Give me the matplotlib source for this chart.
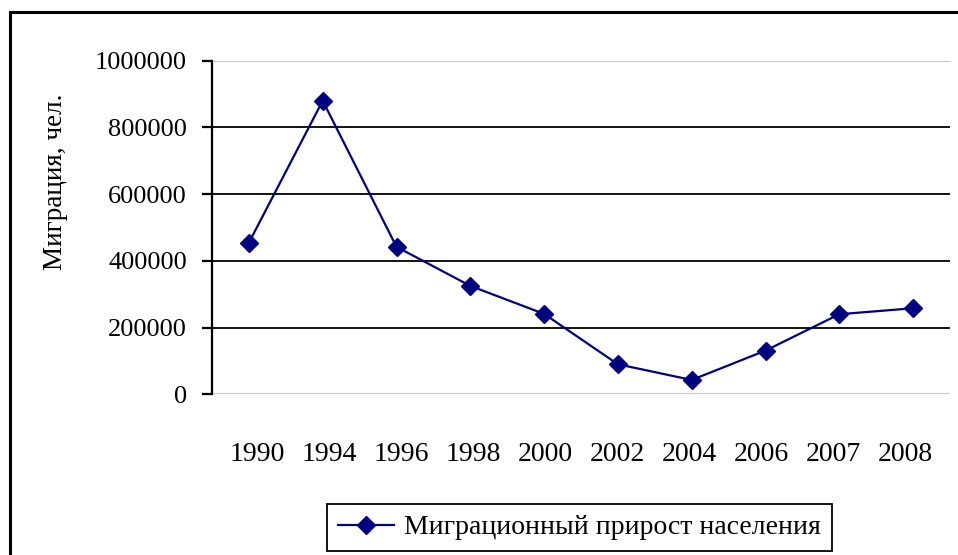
import matplotlib
matplotlib.use("Agg")
import matplotlib.pyplot as plt
from matplotlib.patches import Rectangle
from matplotlib.transforms import ScaledTranslation

# Данные: миграционный прирост населения
years = ["1990", "1994", "1996", "1998", "2000", "2002", "2004", "2006", "2007", "2008"]
migration = [454500, 880000, 442000, 325000, 241000, 90000, 43000, 131000, 240000, 258000]
y_ticks = [0, 200000, 400000, 600000, 800000, 1000000]

plt.rcParams['font.family'] = ['Liberation Serif', 'DejaVu Serif']

W, H = 958, 555
fig = plt.figure(figsize=(W / 100, H / 100), dpi=100)

# Рамка вокруг всей диаграммы (выходит за правый и нижний край)
fig.patches.append(Rectangle((10 / W, -0.05), 1.2, 1 - 12 / H + 0.05,
                             transform=fig.transFigure, fill=False,
                             edgecolor='black', lw=2.2, zorder=0))

ax = fig.add_axes([212 / W, 1 - 394.3 / H, 738 / W, 333.6 / H])
x = list(range(len(years)))
ax.plot(x, migration, color='#000080', lw=1.6, marker='D', markersize=9,
        label='Миграционный прирост населения', zorder=3, clip_on=False)

ax.set_xlim(-0.5, len(years) - 0.5)
ax.set_ylim(0, 1000000)
ax.set_yticks(y_ticks)
ax.set_yticklabels([str(v) for v in y_ticks])
ax.set_xticks(x)
ax.set_xticklabels(years)

# сетка: внутренние линии чёрные, крайние светло-серые
for v in y_ticks:
    if v in (0, 1000000):
        ax.axhline(v, color='#c8c8c8', lw=1.5, zorder=1)
    else:
        ax.axhline(v, color='black', lw=1.3, zorder=1)

for side in ('top', 'right', 'bottom'):
    ax.spines[side].set_visible(False)
ax.spines['left'].set_linewidth(1.6)
ax.tick_params(axis='y', direction='out', length=7, width=1.6, pad=11, labelsize=19)
ax.tick_params(axis='x', length=0, pad=34, labelsize=20)

# подписи лет в оригинале чуть плотнее, чем точки (Excel)
mid = (len(years) - 1) / 2
for i, lbl in enumerate(ax.get_xticklabels()):
    dx = (i - mid) * (72.0 - 73.8) / 100
    lbl.set_transform(lbl.get_transform() + ScaledTranslation(dx, 0, fig.dpi_scale_trans))

fig.text(56 / W, 1 - 182 / H, 'Миграция, чел.', rotation=90, fontsize=19.5,
         ha='center', va='center')

fig.legend(loc='center', bbox_to_anchor=(579.5 / W, 1 - 527.5 / H),
           fontsize=20, frameon=True, fancybox=False, edgecolor='black',
           framealpha=1, handlelength=2.0, handletextpad=0.35, borderpad=0.4)
fig.legends[0].get_frame().set_linewidth(1.3)

plt.savefig("out.png", dpi=100)
